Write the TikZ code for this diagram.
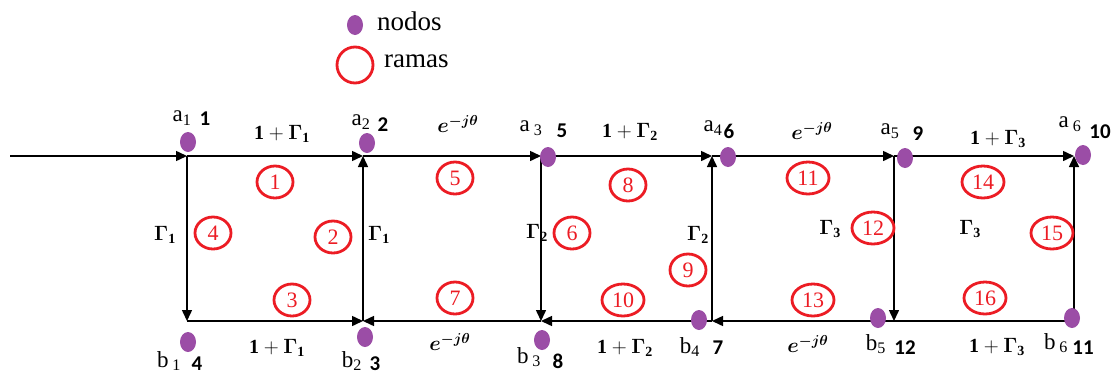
\documentclass[tikz,border=0pt]{standalone}
\usepackage{amsmath,bm}
\usepackage{fontspec}
\setmainfont{Liberation Serif}
\newfontfamily\numfont{Carlito}
\usetikzlibrary{arrows.meta,shapes.geometric}
\definecolor{nodepurple}{RGB}{155,77,166}
\definecolor{ramared}{RGB}{236,28,36}
\begin{document}
\begin{tikzpicture}[x=1pt,y=-1pt,
  wire/.style={line width=1.5pt, black},
  arr/.style={wire, -{Triangle[length=11pt,width=10pt]}},
  dotnode/.style={ellipse, fill=nodepurple, minimum width=16pt, minimum height=20pt, inner sep=0},
  rama/.style={ellipse, draw=ramared, line width=2.8pt, minimum width=36pt, minimum height=32pt, inner sep=0, text=ramared, font=\fontsize{22}{24}\selectfont},
  rama2/.style={rama, minimum width=42pt},
  lbl/.style={font=\fontsize{20}{22}\selectfont, inner sep=0},
  elbl/.style={font=\fontsize{22}{24}\selectfont, inner sep=0},
  ab/.style={font=\fontsize{23}{25}\selectfont, inner sep=0},
  num/.style={font=\numfont\bfseries\fontsize{21}{23}\selectfont, inner sep=0},
  legtxt/.style={font=\fontsize{27}{29}\selectfont, inner sep=0, anchor=west}]
\useasboundingbox (0,0) rectangle (1114,378);

% legend
\node[dotnode] (legdot) at (355,25) {};
\node[legtxt] (legnodos) at (377,21) {nodos};
\node[ellipse, draw=ramared, line width=2.8pt, minimum width=36pt, minimum height=36pt, inner sep=0] (legrama) at (355,65) {};
\node[legtxt] (legramas) at (384,61) {ramas};

% junctions
\coordinate (in) at (10,156);
\coordinate (A1) at (187,156);
\coordinate (A2) at (363,156);
\coordinate (A3) at (541,156);
\coordinate (A4) at (712,156);
\coordinate (A5) at (894,156);
\coordinate (A6) at (1074,156);
\coordinate (B1) at (187,321);
\coordinate (B2) at (363,321);
\coordinate (B3) at (541,321);
\coordinate (B4) at (712,321);
\coordinate (B5) at (894,321);
\coordinate (B6) at (1074,321);

% connectors
\draw[arr] (in) -- (A1);
\draw[arr] (A1) -- (A2);
\draw[arr] (A2) -- (A3);
\draw[arr] (A3) -- (A4);
\draw[arr] (A4) -- (A5);
\draw[arr] (A5) -- (A6);
\draw[arr] (A1) -- (B1);
\draw[arr] (B1) -- (B2);
\draw[arr] (B2) -- (A2);
\draw[arr] (B3) -- (B2);
\draw[arr] (A3) -- (B3);
\draw[arr] (B4) -- (B3);
\draw[arr] (B4) -- (A4);
\draw[arr] (B5) -- (B4);
\draw[arr] (A5) -- (B5);
\draw[wire] (B6) -- (B5);
\draw[arr] (B6) -- (A6);

% dots
\node[dotnode] (a1) at (188,142) {};
\node[dotnode] (a2) at (367,143) {};
\node[dotnode] (a3) at (548,157) {};
\node[dotnode] (a4) at (728,157) {};
\node[dotnode] (a5) at (905,158) {};
\node[dotnode] (a6) at (1083,155) {};
\node[dotnode] (b1) at (188,342) {};
\node[dotnode] (b2) at (365,337) {};
\node[dotnode] (b3) at (542,340) {};
\node[dotnode] (b4) at (699,320) {};
\node[dotnode] (b5) at (878,318) {};
\node[dotnode] (b6) at (1072,318) {};

% node names
\node[ab] (ta1) at (182,118) {a\textsubscript{1}};
\node[num] (na1) at (205,119) {1};
\node[ab] (ta2) at (361,122) {a\textsubscript{2}};
\node[num] (na2) at (383,125) {2};
\node[ab] (ta3) at (531,128) {a\,\textsubscript{3}};
\node[num] (na3) at (562,131) {5};
\node[ab] (ta4) at (713,128) {a\textsubscript{4}};
\node[num] (na4) at (729,131) {6};
\node[ab] (ta5) at (890,131) {a\textsubscript{5}};
\node[num] (na5) at (918,134) {9};
\node[ab] (ta6) at (1070,124) {a\,\textsubscript{6}};
\node[num] (na6) at (1100,132) {10};
\node[ab] (tb1) at (169,361) {b\,\textsubscript{1}};
\node[num] (nb1) at (197,364) {4};
\node[ab] (tb2) at (352,361) {b\textsubscript{2}};
\node[num] (nb2) at (375,364) {3};
\node[ab] (tb3) at (529,357) {b\,\textsubscript{3}};
\node[num] (nb3) at (558,361) {8};
\node[ab] (tb4) at (690,347) {b\textsubscript{4}};
\node[num] (nb4) at (718,348) {7};
\node[ab] (tb5) at (876,344) {b\textsubscript{5}};
\node[num] (nb5) at (905,348) {12};
\node[ab] (tb6) at (1056,343) {b\,\textsubscript{6}};
\node[num] (nb6) at (1083,348) {11};

% branch gains
\node[lbl] (g1) at (282,134) {$\mathbf{1}+\bm{\Gamma}_{\mathbf{1}}$};
\node[elbl] (g5) at (458,124) {$\bm{e^{-j\theta}}$};
\node[lbl] (g8) at (630,132) {$\mathbf{1}+\bm{\Gamma}_{\mathbf{2}}$};
\node[elbl] (g11) at (812,131) {$\bm{e^{-j\theta}}$};
\node[lbl] (g14) at (998,139) {$\mathbf{1}+\bm{\Gamma}_{\mathbf{3}}$};
\node[lbl] (g4) at (165,235) {$\bm{\Gamma}_{\mathbf{1}}$};
\node[lbl] (g2) at (379,235) {$\bm{\Gamma}_{\mathbf{1}}$};
\node[lbl] (g6) at (537,233) {$\bm{\Gamma}_{\mathbf{2}}$};
\node[lbl] (g9) at (698,235) {$\bm{\Gamma}_{\mathbf{2}}$};
\node[lbl] (g12) at (830,229) {$\bm{\Gamma}_{\mathbf{3}}$};
\node[lbl] (g15) at (970,229) {$\bm{\Gamma}_{\mathbf{3}}$};
\node[lbl] (g3) at (277,348) {$\mathbf{1}+\bm{\Gamma}_{\mathbf{1}}$};
\node[elbl] (g7) at (450,342) {$\bm{e^{-j\theta}}$};
\node[lbl] (g10) at (625,348) {$\mathbf{1}+\bm{\Gamma}_{\mathbf{2}}$};
\node[elbl] (g13) at (808,344) {$\bm{e^{-j\theta}}$};
\node[lbl] (g16) at (997,347) {$\mathbf{1}+\bm{\Gamma}_{\mathbf{3}}$};

% branch numbers
\node[rama] (r1) at (275,182) {1};
\node[rama] (r2) at (333,237) {2};
\node[rama] (r3) at (292,300) {3};
\node[rama] (r4) at (213,233) {4};
\node[rama] (r5) at (455,178) {5};
\node[rama] (r6) at (572,233) {6};
\node[rama] (r7) at (455,298) {7};
\node[rama] (r8) at (628,185) {8};
\node[rama] (r9) at (688,270) {9};
\node[rama2] (r10) at (623,300) {10};
\node[rama2] (r11) at (808,178) {11};
\node[rama2] (r12) at (873,228) {12};
\node[rama2] (r13) at (813,300) {13};
\node[rama2] (r14) at (983,182) {14};
\node[rama2] (r15) at (1052,233) {15};
\node[rama2] (r16) at (985,298) {16};
\end{tikzpicture}
\end{document}
